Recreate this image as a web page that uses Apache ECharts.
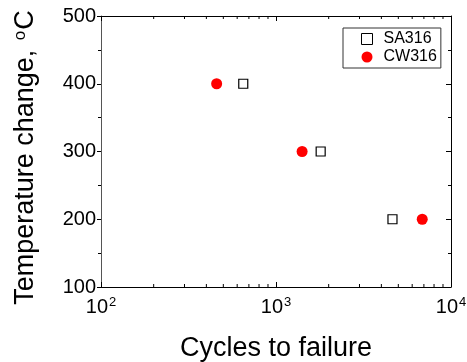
<!DOCTYPE html>
<html><head><meta charset="utf-8">
<script src="https://cdn.jsdelivr.net/npm/echarts@6/dist/echarts.min.js"></script>
<style>html,body{margin:0;padding:0;background:#fff}#c{width:467px;height:362px}</style>
</head><body><div id="c"></div>
<script>
const seriesNames = ['SA316', 'CW316'];
const sa316Cycles = [650, 1800, 4630];
const sa316Temp = [400, 300, 200];
const cw316Cycles = [458, 1410, 6850];
const cw316Temp = [400, 300, 200];
const xMin = 100, xMax = 10000;
const yMin = 100, yMax = 500, yInterval = 100;
const xMinorTicks = [200, 300, 400, 500, 600, 700, 800, 900, 2000, 3000, 4000, 5000, 6000, 7000, 8000, 9000];
const xTitle = 'Cycles to failure';
const yTitle = 'Temperature change, {s|o}C';

const FONT = 'Liberation Sans, Arial, sans-serif';
const chart = echarts.init(document.getElementById('c'), null, {renderer: 'canvas'});

function zip(a, b) { return a.map((v, i) => [v, b[i]]); }

const option = {
  animation: false,
  backgroundColor: '#fff',
  grid: {left: 101, right: 16, top: 16, bottom: 75, containLabel: false, outerBoundsMode: 'none'},
  legend: {
    data: [
      {name: seriesNames[0], itemStyle: {borderWidth: 1}},
      {name: seriesNames[1]}
    ],
    orient: 'vertical',
    left: 343, top: 28,
    padding: [3, 4, 3, 18],
    itemGap: 2,
    itemWidth: 11, itemHeight: 11,
    borderColor: '#333', borderWidth: 1,
    textStyle: {fontFamily: FONT, fontSize: 16, color: '#000', padding: [0, 0, 0, 6]}
  },
  xAxis: [{
    type: 'log', logBase: 10, min: xMin, max: xMax,
    position: 'bottom',
    name: xTitle, nameLocation: 'middle', nameGap: 48,
    nameTextStyle: {fontFamily: FONT, fontSize: 27, color: '#000'},
    axisLine: {show: true, lineStyle: {color: '#000', width: 1}},
    axisTick: {show: true, inside: true, length: 5, lineStyle: {color: '#000'}},
    axisLabel: {
      margin: 9,
      formatter: v => '{b|10}{s|' + Math.round(Math.log10(v)) + '}',
      rich: {
        b: {fontFamily: FONT, fontSize: 20, color: '#000'},
        s: {fontFamily: FONT, fontSize: 13, color: '#000', verticalAlign: 'top', padding: [0, 0, 10, 1]}
      }
    },
    splitLine: {show: false}
  }, {
    type: 'log', logBase: 10, min: xMin, max: xMax,
    position: 'top',
    axisLine: {show: true, lineStyle: {color: '#000', width: 1}},
    axisTick: {show: true, inside: true, length: 5, lineStyle: {color: '#000'}},
    axisLabel: {show: false},
    splitLine: {show: false}
  }],
  yAxis: [{
    type: 'value', min: yMin, max: yMax, interval: yInterval,
    position: 'left',
    name: yTitle, nameLocation: 'middle', nameGap: 62, nameRotate: 90,
    nameTextStyle: {fontFamily: FONT, fontSize: 27, color: '#000', padding: [0, 12, 0, 0],
      rich: {s: {fontFamily: FONT, fontSize: 17, color: '#000', verticalAlign: 'top', padding: [0, 1, 10, 2]}}},
    axisLine: {show: true, lineStyle: {color: '#555', width: 1}},
    axisTick: {show: true, inside: false, length: 4, lineStyle: {color: '#000'}},
    minorTick: {show: true, splitNumber: 2, length: 3, lineStyle: {color: '#000'}},
    axisLabel: {fontFamily: FONT, fontSize: 20, color: '#000', margin: 5},
    splitLine: {show: false}, minorSplitLine: {show: false}
  }, {
    type: 'value', min: yMin, max: yMax, interval: yInterval,
    position: 'right',
    axisLine: {show: true, lineStyle: {color: '#000', width: 1}},
    axisTick: {show: true, inside: true, length: 5, lineStyle: {color: '#000'}},
    minorTick: {show: true, splitNumber: 2, length: 3, lineStyle: {color: '#000'}},
    axisLabel: {show: false},
    splitLine: {show: false}, minorSplitLine: {show: false}
  }],
  series: [{
    name: 'minorTicks', type: 'custom', silent: true, z: 1,
    data: xMinorTicks.map(v => [v]),
    encode: {x: 0},
    renderItem: (params, api) => {
      const v = api.value(0);
      const b = api.coord([v, yMin]);
      const t = api.coord([v, yMax]);
      return {type: 'group', children: [
        {type: 'line', shape: {x1: b[0], y1: b[1], x2: b[0], y2: b[1] - 3}, style: {stroke: '#000', lineWidth: 1}},
        {type: 'line', shape: {x1: t[0], y1: t[1], x2: t[0], y2: t[1] + 3}, style: {stroke: '#000', lineWidth: 1}}
      ]};
    }
  }, {
    name: seriesNames[0], type: 'scatter', symbol: 'rect', symbolSize: 9,
    itemStyle: {color: '#fff', borderColor: '#000', borderWidth: 1.2, opacity: 1},
    data: zip(sa316Cycles, sa316Temp), z: 3
  }, {
    name: seriesNames[1], type: 'scatter', symbol: 'circle', symbolSize: 11,
    itemStyle: {color: '#ff0000', opacity: 1},
    data: zip(cw316Cycles, cw316Temp), z: 3
  }]
};
chart.setOption(option);
</script>
</body></html>
